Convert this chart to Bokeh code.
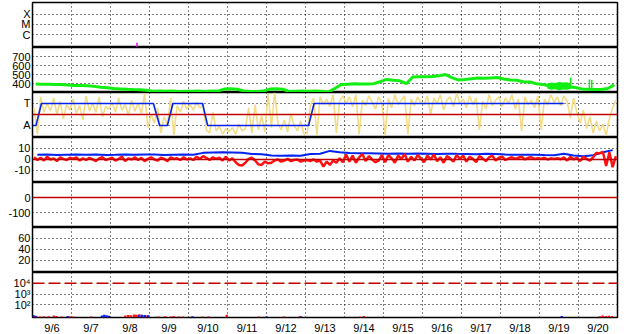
import numpy as np
from bokeh.plotting import figure
from bokeh.layouts import column
from bokeh.models import Range1d, FixedTicker, Span
from bokeh.embed import file_html
from bokeh.resources import INLINE

# ---------------- data ----------------
day_labels = ["9/6", "9/7", "9/8", "9/9", "9/10", "9/11", "9/12", "9/13",
              "9/14", "9/15", "9/16", "9/17", "9/18", "9/19", "9/20"]

# flare (days since 9/6 00:00, class level 0..4 with C=1, M=2, X=3)
flare_t = [2.68]
flare_v = [0.25]

# solar wind speed, 4-hour steps (km/s)
speed = [
    395, 393, 392, 390, 388, 382,
    378, 377, 375, 368, 358, 352,
    344, 340, 335, 332, 330, 325,
    315, 318, 314, 316, 312, 315,
    313, 316, 312, 318, 315, 338,
    342, 336, 318, 314, 312, 316,
    338, 342, 336, 312, 314, 316,
    315, 318, 313, 305, 345, 388,
    392, 396, 394, 395, 398, 420,
    445, 436, 430, 398, 472, 474,
    476, 478, 485, 500, 465, 440,
    445, 452, 460, 458, 462, 466,
    450, 440, 436, 420, 418, 398,
    390, 372, 368, 370, 365, 355,
    340, 335, 334, 333, 345, 385,
]
# noisy speed band and spikes
band_t = [13.2, 13.3, 13.4, 13.5, 13.6, 13.7, 13.8]
band_lo = [345, 330, 335, 326, 332, 330, 340]
band_hi = [400, 412, 405, 418, 410, 415, 398]
spike_t = [13.8, 14.28, 14.34]
spike_lo = [355, 336, 336]
spike_hi = [466, 444, 440]

# IMF angle (panel units, A=1, T=3), 2-hour steps
phi = [
    2.6, 0.2, 3.6, 2.2, 3.0, 2.3, 3.5, 2.0, 3.2, 1.6, 2.9, 2.4,
    3.4, 2.1, 2.8, 1.5, 3.7, 2.3, 3.0, 2.2, 3.6, 1.8, 2.7, 2.5,
    3.1, 2.2, 3.5, 2.4, 2.9, 1.9, 3.3, 2.3, 3.0, 2.1, 3.9, 0.8,
    2.0, 1.2, 2.6, 0.3, 1.8, 1.0, 3.5, 0.1, 2.8, 2.2, 3.2, 2.5,
    2.9, 2.4, 3.1, 2.6, 2.9, 0.6, 0.3, 2.2, 0.5, 0.9, 0.2, 0.7,
    0.4, 0.8, 0.2, 1.1, 0.5, 0.7, 2.6, 0.3, 2.9, 0.6, 1.9, 0.4,
    3.9, 0.8, 4.0, 1.2, 0.6, 1.5, 0.4, 2.1, 1.0, 0.5, 1.4, 0.2,
    0.3, 2.8, 3.5, 0.1, 3.6, 2.9, 3.4, 2.7, 3.8, 0.3, 3.2, 3.7,
    3.0, 3.6, 2.7, 3.8, 0.2, 3.3, 2.8, 3.7, 3.1, 2.5, 3.6, 3.0,
    0.1, 3.5, 2.6, 3.8, 2.9, 3.3, 3.7, 0.2, 3.4, 2.8, 3.6, 3.1,
    2.9, 3.7, 2.0, 3.5, 3.0, 3.8, 2.4, 3.3, 3.6, 2.7, 3.9, 3.0,
    3.4, 2.6, 3.7, 2.9, 3.5, 0.6, 3.2, 2.5, 3.8, 2.8, 3.3, 3.6,
    2.7, 3.5, 3.0, 3.8, 2.5, 3.4, 0.5, 3.6, 2.9, 3.3, 2.6, 3.7,
    0.6, 3.4, 2.9, 3.8, 3.1, 3.6, 2.8, 3.7, 3.2, 1.7, 3.5, 2.2,
    1.2, 2.4, 0.7, 1.8, 0.3, 1.4, 0.5, 1.1, 0.1, 1.6, 2.6, 3.3,
]

# sector polarity (A=1, T=3)
sector_t = [0.0, 0.09, 0.23, 3.10, 3.26, 3.46, 3.60, 4.36, 4.49, 7.08, 7.22, 13.62]
sector_v = [1, 1, 3, 3, 1, 1, 3, 3, 1, 1, 3, 3]

# Bt, 6-hour steps (nT)
bt = [
    4.3, 4.6, 4.0, 4.3,
    4.5, 4.2, 4.4, 4.1,
    4.3, 4.6, 4.2, 4.5,
    4.4, 4.0, 4.3, 4.6,
    4.2, 6.0, 6.3, 6.5,
    6.3, 6.1, 5.0, 4.8,
    3.5, 3.4, 3.6, 3.3,
    4.9, 5.2, 7.8, 6.5,
    5.8, 5.6, 5.7, 5.5,
    5.3, 5.5, 5.2, 5.4,
    5.2, 5.0, 5.3, 5.1,
    5.0, 4.8, 5.1, 4.9,
    4.4, 4.3, 4.2, 4.3,
    4.0, 3.8, 5.1, 3.6,
    3.0, 3.8, 6.5, 8.5,
]

# Bz, 2-hour steps (nT)
bz = [
    2.0, -0.5, 1.5, -1.0, 2.5, 0.0, 1.0, -1.5, 2.0, 0.5, -0.5, 1.5,
    0.5, 2.0, -1.0, 1.0, -0.5, 1.5, 0.0, -1.5, 1.0, 2.0, -0.5, 0.5,
    1.5, -1.0, 0.5, 2.5, -1.5, 1.0, 0.0, 2.0, -0.5, 1.5, -1.5, 0.5,
    2.0, 0.0, -1.0, 1.5, 0.5, -1.5, 2.0, 0.5, 1.0, -0.5, 2.0, 0.0,
    1.0, -0.5, 2.5, 0.5, 3.0, 1.5, -0.5, 2.0, 0.5, 1.5, -1.0, 2.5,
    -1.0, 1.0, -2.5, -5.0, -5.5, -3.0, 0.5, 1.5, -1.0, -4.5, -5.0, -2.0,
    -3.5, -3.0, -1.0, 0.0, -2.0, -1.0, 0.5, -1.5, -0.5, 0.0, -2.0, -1.0,
    -0.5, -1.5, 0.0, -2.0, -1.0, -6.5, -2.0, -5.0, -1.0, -3.0, 1.0, -2.5,
    4.5, -2.0, 3.5, -3.0, 2.0, 5.0, -1.5, 3.0, 0.0, -2.5, -1.0, 4.0,
    -2.5, 4.0, 1.0, -3.0, 3.5, 0.5, 5.0, -2.0, 2.5, -1.0, 4.0, 1.0,
    -2.5, 3.5, 0.0, 4.5, -1.5, 2.0, -3.0, 3.0, 1.0, -2.0, 4.0, 0.5,
    3.5, -2.0, 2.5, 0.5, -2.5, 3.0, 1.0, -1.5, 2.0, 3.5, -1.0, 1.5,
    2.5, -0.5, 1.0, 2.0, 0.5, 1.5, 2.5, 0.0, 1.5, 2.0, 0.5, 1.0,
    0.5, 1.5, 0.0, 1.0, 0.5, 1.2, 0.2, 2.0, -1.0, 2.5, 0.0, 1.5,
    -1.5, 2.5, 0.5, -1.0, 2.0, 6.0, 5.5, 7.0, -6.0, 6.5, -7.0, 3.0,
]

# particle flux bars
red_t = [0.04, 0.12, 0.2, 0.3, 0.42, 0.55, 0.62, 0.75, 0.95, 1.05, 1.5, 1.82, 1.92,
         2.38, 2.45, 2.52, 2.6, 2.66, 2.74, 2.82, 2.9, 2.98, 3.22, 3.4, 3.55, 3.62,
         3.75, 3.85, 4.35, 4.52, 4.98, 5.8, 6.45, 6.85, 8.4, 8.5,
         14.55, 14.62, 14.7, 14.78, 14.86]
red_v = [9.5, 8.5, 8.8, 9.2, 9.0, 10.5, 9.8, 8.6, 9.0, 8.5, 8.6, 9.5, 8.8,
         10.5, 12.0, 11.0, 13.5, 12.5, 14.0, 12.0, 11.5, 10.5, 8.6, 9.2, 8.6, 9.5,
         8.8, 8.6, 8.6, 8.8, 12.5, 8.6, 8.6, 9.0, 8.8, 9.5,
         9.2, 10.5, 9.8, 10.2, 9.5]
blue_t = [0.02, 0.08, 0.9, 1.78, 1.84, 1.9, 1.96, 2.72, 2.8, 2.88, 2.96, 4.1, 6.0, 6.88, 13.57]
blue_v = [12.0, 10.0, 9.5, 10.5, 12.5, 11.0, 10.0, 11.5, 12.5, 12.0, 11.5, 9.0, 8.8, 9.0, 9.5]

# ---------------- layout ----------------
FONT = "Liberation Sans Narrow, Liberation Sans"
FS = "11px"
DARKRED = "#c00000"
xr = Range1d(0, 15)


def panel(yr, ticks, labels, grid_ticks, top=False, bottom=False, log=False):
    p = figure(frame_width=585, frame_height=45, x_range=xr, y_range=yr,
               y_axis_type="log" if log else "linear",
               x_axis_location="below" if bottom else None,
               output_backend="svg", toolbar_location=None,
               min_border_left=32, min_border_right=11,
               min_border_top=2 if top else 0,
               min_border_bottom=17 if bottom else 0,
               outline_line_color="black", outline_line_width=1.5,
               background_fill_color="white", border_fill_color="white")
    p.xgrid.ticker = FixedTicker(ticks=list(range(1, 15)))
    p.xgrid.grid_line_color = "black"
    p.xgrid.grid_line_dash = "1 3"
    p.ygrid.ticker = FixedTicker(ticks=grid_ticks)
    p.ygrid.grid_line_color = "black"
    p.ygrid.grid_line_dash = "1 3"
    ya = p.yaxis[0]
    ya.ticker = FixedTicker(ticks=ticks)
    ya.major_label_overrides = dict(zip(ticks, labels))
    ya.major_tick_line_color = None
    ya.minor_tick_line_color = None
    ya.axis_line_color = None
    ya.major_tick_out = 0
    ya.major_tick_in = 0
    ya.major_label_standoff = 2
    ya.major_label_text_font = FONT
    ya.major_label_text_font_size = FS
    ya.major_label_text_color = "black"
    if bottom:
        xa = p.xaxis[0]
        mids = [i + 0.5 for i in range(15)]
        xa.ticker = FixedTicker(ticks=mids)
        xa.major_label_overrides = dict(zip(mids, day_labels))
        xa.major_tick_line_color = None
        xa.minor_tick_line_color = None
        xa.axis_line_color = None
        xa.major_tick_out = 0
        xa.major_tick_in = 0
        xa.major_label_standoff = 4
        xa.major_label_text_font = FONT
        xa.major_label_text_font_size = FS
        xa.major_label_text_color = "black"
    return p


# panel 1: flare class
p1 = panel(Range1d(-0.2, 4.1), [3, 2, 1], ["X", "M", "C"], [1, 2, 3], top=True)
p1.segment(x0=flare_t, y0=[-0.2] * len(flare_t), x1=flare_t, y1=flare_v,
           line_color="magenta", line_width=1.5)

# panel 2: speed
st = np.arange(len(speed)) / 6.0 + 1 / 12.0
p2 = panel(Range1d(300, 800), [700, 600, 500, 400], ["700", "600", "500", "400"],
           [400, 500, 600, 700])
p2.varea(x=band_t, y1=band_lo, y2=band_hi, fill_color="#11ee11")
p2.segment(x0=spike_t, y0=spike_lo, x1=spike_t, y1=spike_hi, line_color="#11ee11", line_width=1.5)
p2.line(st, speed, line_color="#11ee11", line_width=3)

# panel 3: sector
pt = np.arange(len(phi)) / 12.0 + 1 / 24.0
p3 = panel(Range1d(-0.1, 4.0), [3, 1], ["T", "A"], [1, 3])
p3.line(pt, phi, line_color="#f3dc85", line_width=1.6)
p3.add_layout(Span(location=2, dimension="width", line_color=DARKRED, line_width=1.5))
p3.line(sector_t, sector_v, line_color="#0022ee", line_width=1.6)

# panel 4: IMF
btt = np.arange(len(bt)) / 4.0 + 1 / 8.0
bzt = np.arange(len(bz)) / 12.0 + 1 / 24.0
p4 = panel(Range1d(-21, 20), [10, 0, -10], ["10", "0", "-10"], [10, -10])
p4.add_layout(Span(location=0, dimension="width", line_color=DARKRED, line_width=1.5))
p4.line(btt, bt, line_color="#0022ee", line_width=2)
p4.line(bzt, bz, line_color="#ff1111", line_width=2.5)

# panel 5
p5 = panel(Range1d(-200, 100), [0, -100], ["0", "-100"], [-100])
p5.add_layout(Span(location=0, dimension="width", line_color=DARKRED, line_width=1.5))

# panel 6
p6 = panel(Range1d(-2, 80), [60, 40, 20], ["60", "40", "20"], [20, 40, 60])

# panel 7: particle flux (log)
p7 = panel(Range1d(7, 1e5), [10000, 1000, 100], ["10\u2074", "10\u00b3", "10\u00b2"],
           [100, 1000], bottom=True, log=True)
p7.add_layout(Span(location=10000, dimension="width", line_color=DARKRED,
                   line_width=1.5, line_dash="12 4"))
p7.vbar(x=red_t, width=0.06, bottom=7, top=red_v, fill_color="#ff1111", line_color=None)
p7.vbar(x=blue_t, width=0.06, bottom=7, top=blue_v, fill_color="#0022ee", line_color=None)

layout = column(p1, p2, p3, p4, p5, p6, p7, spacing=0)

open("out.html", "w").write(file_html(layout, INLINE))
